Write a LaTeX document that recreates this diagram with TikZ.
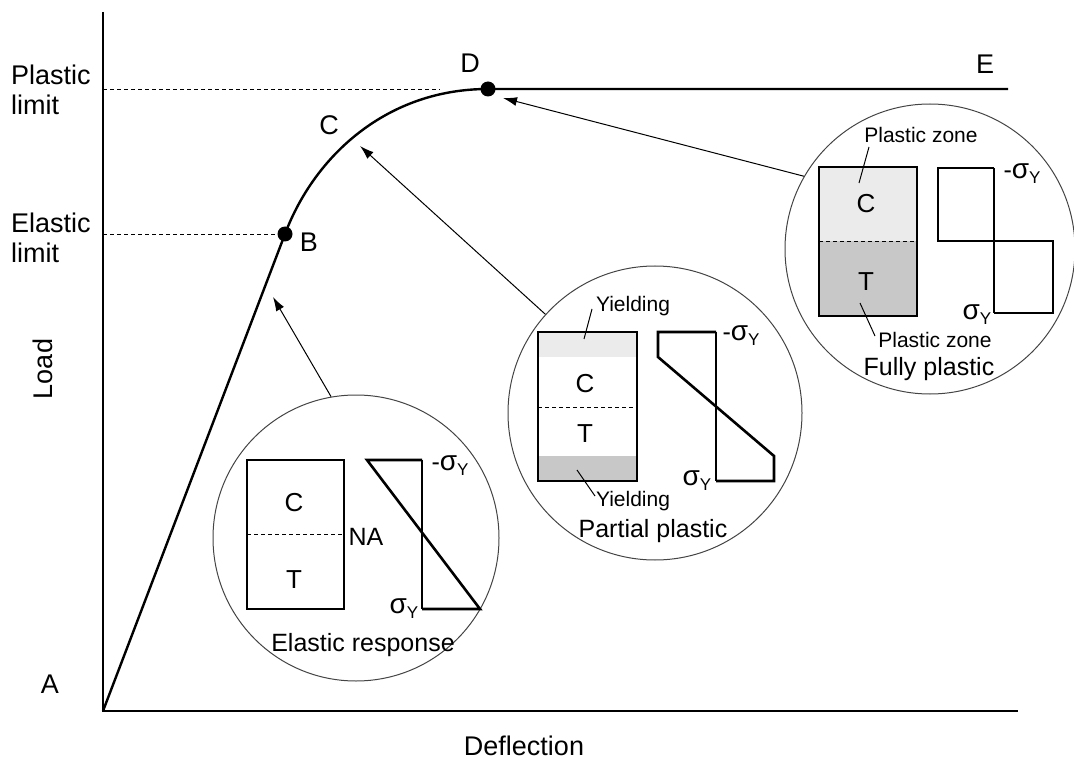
\documentclass[tikz,border=0pt]{standalone}
\usepackage{fontspec}
\setmainfont{Liberation Sans}
\usetikzlibrary{arrows.meta}
\definecolor{lightzone}{HTML}{EBEBEB}
\definecolor{darkzone}{HTML}{C8C8C8}
\definecolor{ringc}{HTML}{444444}
\newcommand{\sigY}{{\fontsize{28}{28}\selectfont σ}\raisebox{-5pt}{\fontsize{17}{17}\selectfont Y}}
\begin{document}
\begin{tikzpicture}[x=1pt,y=-1pt,
  thickln/.style={line width=2.6pt, line join=miter},
  thinln/.style={line width=1pt},
  dashln/.style={line width=0.9pt, dash pattern=on 4pt off 3pt},
  ring/.style={circle, draw=ringc, line width=1pt, inner sep=0pt},
  arr/.style={line width=1pt, -{Latex[length=14pt,width=9pt]}},
  dot/.style={circle, fill=black, inner sep=0pt, minimum size=15pt},
  lbl/.style={font=\fontsize{27}{30}\selectfont, inner sep=0pt},
  inlbl/.style={font=\fontsize{25}{28}\selectfont, inner sep=0pt},
  bigin/.style={font=\fontsize{26}{28}\selectfont, inner sep=0pt},
  smalllbl/.style={font=\fontsize{21}{24}\selectfont, inner sep=0pt}]
\useasboundingbox (0,0) rectangle (1074,762);

% ---- axes ----
\coordinate (ytop) at (103,12);
\coordinate (orig) at (103,711);
\coordinate (xend) at (1018,711);
\draw[thickln] (ytop) -- (orig) -- (xend);

\node[lbl, rotate=90] (load) at (43,369) {Load};
\node[lbl, anchor=base] (defl) at (524,755) {Deflection};
\node[lbl, align=left, anchor=north west] (plim) at (11,65) {Plastic\\limit};
\node[lbl, align=left, anchor=north west] (elim) at (11,213) {Elastic\\limit};

% ---- curve ----
\node[dot] (Bd) at (285,234) {};
\node[dot] (Dd) at (488,89) {};
\coordinate (Eend) at (1008,89);
\coordinate (pl0) at (103,89);
\coordinate (pl1) at (440,89);
\coordinate (el0) at (103,234);
\draw[dashln] (pl0) -- (pl1);
\draw[dashln] (el0) -- (Bd.center);
\draw[thickln, line width=2.4pt] (orig) -- (Bd.center)
   .. controls (315,154.5) and (388,89) .. (Dd.center) -- (Eend);

\node[lbl] (Alab) at (50,684) {A};
\node[lbl] (Blab) at (309,242) {B};
\node[lbl] (Clab) at (329,125) {C};
\node[lbl] (Dlab) at (470,63) {D};
\node[lbl] (Elab) at (985,64) {E};

% ---- circle 1: elastic ----
\node[ring, minimum size=286pt] (c1) at (356,538) {};
\draw[thickln] (247,460) rectangle (344,609);
\draw[dashln] (247,534) -- (344,534);
\node[bigin] (c1C) at (294,503) {C};
\node[bigin] (c1T) at (294,580) {T};
\node[inlbl] (c1NA) at (366,537) {NA};
\draw[thickln] (422,460) -- (367,460) -- (480,609) -- (422,609);
\draw[thinln, line width=1.4pt] (422,460) -- (422,609);
\node[inlbl] (c1s1) at (450,466) {-\sigY};
\node[inlbl] (c1s2) at (404,609) {\sigY};
\node[inlbl] (c1t) at (363,645) {Elastic response};

% ---- circle 2: partial plastic ----
\node[ring, minimum size=294pt] (c2) at (655,413) {};
\fill[lightzone] (538,332) rectangle (637,357);
\fill[darkzone] (538,456) rectangle (637,481);
\draw[thickln] (538,332) rectangle (637,481);
\draw[dashln] (538,407) -- (637,407);
\node[bigin] (c2C) at (585,384) {C};
\node[bigin] (c2T) at (585,434) {T};
\draw[thickln] (716,332) -- (658,332) -- (658,357) -- (774,456) -- (774,481) -- (716,481);
\draw[thinln, line width=1.4pt] (716,332) -- (716,481);
\node[inlbl] (c2s1) at (741,336) {-\sigY};
\node[inlbl] (c2s2) at (697,481) {\sigY};
\node[smalllbl] (c2y1) at (633,306) {Yielding};
\node[smalllbl] (c2y2) at (633,501) {Yielding};
\coordinate (c2p1) at (584,339);
\coordinate (c2p2) at (577,470);
\draw[thinln] (592,309) -- (c2p1);
\draw[thinln] (595,496) -- (c2p2);
\node[inlbl] (c2t) at (653,531) {Partial plastic};

% ---- circle 3: fully plastic ----
\node[ring, minimum size=290pt] (c3) at (930,249) {};
\fill[lightzone] (819,167) rectangle (917,241);
\fill[darkzone] (819,241) rectangle (917,316);
\draw[thickln] (819,167) rectangle (917,316);
\draw[dashln] (819,241) -- (917,241);
\node[bigin] (c3C) at (866,204) {C};
\node[bigin] (c3T) at (866,282) {T};
\draw[thickln] (994,168) -- (938,168) -- (938,241) -- (1053,241) -- (1053,313) -- (994,313);
\draw[thinln, line width=1.4pt] (994,168) -- (994,313);
\node[inlbl] (c3s1) at (1022,174) {-\sigY};
\node[inlbl] (c3s2) at (977,315) {\sigY};
\node[smalllbl] (c3z1) at (921,135) {Plastic zone};
\node[smalllbl] (c3z2) at (935,340) {Plastic zone};
\coordinate (c3p1) at (859,183);
\coordinate (c3p2) at (860,303);
\draw[thinln] (869,147) -- (c3p1);
\draw[thinln] (875,336) -- (c3p2);
\node[inlbl] (c3t) at (929,369) {Fully plastic};

% ---- arrows ----
\coordinate (tip1) at (273,297);
\coordinate (tip2) at (360,146);
\coordinate (tip3) at (503,98);
\draw[arr] (c1.100) -- (tip1);
\draw[arr] (c2.138) -- (tip2);
\draw[arr] (c3.150) -- (tip3);
\end{tikzpicture}
\end{document}
